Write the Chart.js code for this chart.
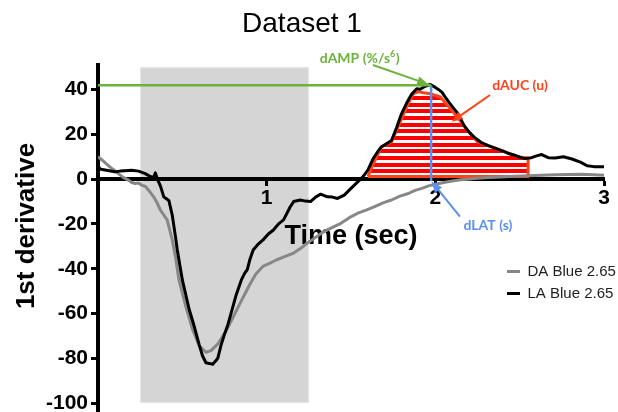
<!DOCTYPE html>
<html><head><meta charset="utf-8">
<script src="https://cdn.jsdelivr.net/npm/chart.js@4/dist/chart.umd.min.js"></script>
<style>html,body{margin:0;padding:0;background:#fff}#wrap{width:618px;height:412px}</style>
</head><body><div id="wrap"><canvas id="c" width="618" height="412"></canvas></div>
<script>
// ---- data ----
const daTime = [0.00,0.02,0.06,0.09,0.12,0.15,0.18,0.20,0.22,0.24,0.26,0.28,0.30,0.33,0.35,0.37,0.39,0.41,0.44,0.46,0.48,0.52,0.56,0.60,0.64,0.67,0.71,0.76,0.80,0.845,0.895,0.935,0.98,1.02,1.06,1.11,1.16,1.20,1.24,1.29,1.34,1.39,1.44,1.49,1.54,1.59,1.64,1.69,1.74,1.79,1.84,1.88,1.92,1.96,2.00,2.05,2.10,2.15,2.19,2.25,2.32,2.39,2.47,2.55,2.63,2.71,2.79,2.87,2.94,3.00];
const daValues = [10.0,8.8,6.2,4.3,2.5,0.8,-0.4,-1.5,-1.9,-1.7,-2.7,-3.2,-4.9,-7.9,-10.5,-13.8,-16,-18.2,-27,-35,-45,-56.7,-67,-74.4,-77.3,-76.6,-73.6,-67.7,-61.8,-55,-47.7,-42.5,-38.8,-37.5,-36,-34.5,-33,-31,-28.6,-26,-23.4,-21.5,-19.7,-17.2,-15.2,-13.8,-12.3,-10.6,-9.3,-7.6,-6.4,-5.0,-4.1,-3.0,-2.3,-1.5,-0.8,-0.3,0.0,0.4,0.8,1.0,1.3,1.5,1.8,2.0,2.1,2.2,2.0,1.8];

const laTime = [0.00,0.01,0.05,0.10,0.13,0.16,0.20,0.24,0.28,0.31,0.33,0.34,0.355,0.37,0.39,0.41,0.42,0.44,0.46,0.47,0.50,0.54,0.57,0.60,0.62,0.64,0.66,0.68,0.70,0.71,0.73,0.75,0.77,0.79,0.82,0.85,0.87,0.885,0.90,0.92,0.95,0.98,1.01,1.04,1.07,1.10,1.14,1.16,1.20,1.23,1.26,1.29,1.32,1.36,1.39,1.42,1.46,1.50,1.54,1.57,1.60,1.63,1.66,1.68,1.71,1.74,1.77,1.80,1.83,1.86,1.89,1.91,1.94,1.97,2.00,2.02,2.04,2.06,2.08,2.11,2.135,2.17,2.20,2.23,2.27,2.31,2.35,2.39,2.43,2.47,2.50,2.53,2.57,2.60,2.63,2.67,2.71,2.76,2.81,2.86,2.90,2.94,3.00];
const laValues = [6.5,4.5,4.0,3.3,3.6,3.8,4.0,3.6,2.5,1.2,0.8,2.8,-0.5,-3.0,-7.9,-9.0,-9.5,-16,-26,-31.5,-45,-58,-65.6,-74,-79,-82,-82.3,-82.7,-81,-80,-74,-69.3,-65,-59.6,-51.5,-45,-42,-40.4,-36,-31.6,-29,-27,-24.5,-22.7,-20,-18.2,-12.3,-10,-9.3,-9.8,-10,-8,-6.7,-7.9,-8.0,-8.6,-7.1,-4.1,-1.2,1.0,4.0,9.0,12.5,14.4,15.8,17.3,23,29.3,34,38,40.4,40.2,41.5,42.3,41,40,38.8,36.5,34.4,31.5,29.2,24,21,18.8,16.5,15.1,14.0,12.9,11.6,10.7,9.8,9.2,9.6,10.4,11.0,9.6,9.5,10.0,9.0,7.6,6.0,5.6,5.5];

const aucTime = [1.60,1.64,1.68,1.74,1.80,1.84,1.87,1.90,1.93,1.97,2.03,2.08,2.13,2.18,2.25,2.33,2.41,2.49,2.55];
const aucValues = [1.2,8,14.5,16.7,27,34,38.2,39,38.6,38.2,36.7,32.3,27.8,22.7,16.7,14.5,12.3,10,9.3];
const aucBase = 1.2;

const xTicks = [1, 2, 3];
const yTicks = [-100, -80, -60, -40, -20, 0, 20, 40];

const peakTime = 1.975, peakValue = 42, latencyEnd = -0.8;
const stimStart = 0.25, stimEnd = 1.25, stimLow = -100, stimHigh = 50;
const yTitleText = '1st derivative';

// ---- helpers ----
const pts = (t, v) => t.map((x, i) => ({x, y: v[i]}));
function stripePattern() {
  const c = document.createElement('canvas'); c.width = 4; c.height = 20;
  const g = c.getContext('2d');
  g.fillStyle = '#ff0000'; g.fillRect(0, 0, 4, 20);
  g.fillStyle = '#ffffff';
  [[0, 3], [7, 2], [13, 3]].forEach(([y, h]) => g.fillRect(0, y, 4, h));
  return g.createPattern(c, 'repeat');
}
function arrow(ctx, x1, y1, x2, y2, color) {
  const a = Math.atan2(y2 - y1, x2 - x1), L = 11, W = 4.5;
  const ca = Math.cos(a), sa = Math.sin(a);
  ctx.strokeStyle = color; ctx.fillStyle = color; ctx.lineWidth = 2;
  ctx.beginPath(); ctx.moveTo(x1, y1); ctx.lineTo(x2 - L * 0.8 * ca, y2 - L * 0.8 * sa); ctx.stroke();
  ctx.beginPath(); ctx.moveTo(x2, y2);
  ctx.lineTo(x2 - L * ca + W * sa, y2 - L * sa - W * ca);
  ctx.lineTo(x2 - L * ca - W * sa, y2 - L * sa + W * ca);
  ctx.closePath(); ctx.fill();
}

const GREEN = '#6cb33c', BLUE = '#5b8ff0', RED = '#ff4219';
const annotations = [
  {text: 'dAMP (%/s', sup: '6', tail: ')', color: GREEN, at: [1.55, 53.8], from: [1.63, 51.0], to: [1.958, 42.4]},
  {text: 'dAUC (u)', color: RED, at: [2.502, 41.7], from: [2.324, 37.6], to: [2.097, 25.7]},
  {text: 'dLAT (s)', color: BLUE, at: [2.312, -20.5], from: [2.146, -16.7], to: [1.978, -1.1]}
];

const annotPlugin = {
  id: 'annot',
  beforeDraw(chart) {
    const {ctx, scales: {x, y}} = chart;
    ctx.save();
    ctx.fillStyle = '#fff'; ctx.fillRect(0, 0, chart.width, chart.height);
    const l = x.getPixelForValue(stimStart), r = x.getPixelForValue(stimEnd);
    const t = y.getPixelForValue(stimHigh), b = y.getPixelForValue(stimLow);
    ctx.fillStyle = '#d5d5d5'; ctx.fillRect(l, t, r - l, b - t);
    ctx.strokeStyle = '#e6e6e6'; ctx.lineWidth = 1; ctx.strokeRect(l + 0.5, t + 0.5, r - l - 1, b - t - 1);
    ctx.restore();
  },
  afterLayout(chart) {
    const lg = chart.legend;
    if (!lg) return;
    lg.left = 500; lg.top = 257; lg.right = 500 + lg.width; lg.bottom = 257 + 200;
  },
  afterDatasetsDraw(chart) {
    const {ctx, scales: {x, y}} = chart;
    ctx.save();
    annotations.forEach(a => {
      arrow(ctx, x.getPixelForValue(a.from[0]), y.getPixelForValue(a.from[1]),
                 x.getPixelForValue(a.to[0]), y.getPixelForValue(a.to[1]), a.color);
      const cx = x.getPixelForValue(a.at[0]), cy = y.getPixelForValue(a.at[1]);
      ctx.fillStyle = a.color; ctx.textBaseline = 'middle';
      const main = 'bold 14px Lato, "Open Sans", sans-serif', small = 'bold 9px Lato, "Open Sans", sans-serif';
      ctx.font = main;
      const w1 = ctx.measureText(a.text).width;
      let w2 = 0, w3 = 0;
      if (a.sup) { ctx.font = small; w2 = ctx.measureText(a.sup).width; ctx.font = main; w3 = ctx.measureText(a.tail).width; }
      let sx = cx - (w1 + w2 + w3) / 2;
      ctx.textAlign = 'left';
      ctx.font = main; ctx.fillText(a.text, sx, cy);
      if (a.sup) {
        ctx.font = small; ctx.fillText(a.sup, sx + w1, cy - 5);
        ctx.font = main; ctx.fillText(a.tail, sx + w1 + w2 + 0.5, cy);
      }
    });
    ctx.restore();
  },
  afterDraw(chart) {
    // y axis title, placed where it sits in the reference (slightly above the axis centre)
    const {ctx} = chart;
    ctx.save();
    ctx.translate(27, 226);
    ctx.rotate(-Math.PI / 2);
    ctx.fillStyle = '#000';
    ctx.font = "bold 26px 'Liberation Sans', Arial, sans-serif";
    ctx.textAlign = 'center'; ctx.textBaseline = 'middle';
    ctx.fillText(yTitleText, 0, 0);
    ctx.restore();
  }
};

Chart.defaults.font.family = "'Liberation Sans', Arial, sans-serif";
Chart.defaults.color = '#000';

const closedAuc = pts(aucTime, aucValues)
  .concat([{x: aucTime[aucTime.length - 1], y: aucBase}, {x: aucTime[0], y: aucBase}]);

new Chart(document.getElementById('c'), {
  type: 'line',
  data: {
    datasets: [
      {label: 'DA Blue 2.65', data: pts(daTime, daValues), borderColor: '#878787', backgroundColor: '#878787',
       borderWidth: 3, pointRadius: 0, fill: false, order: 2, borderJoinStyle: 'round'},
      {label: 'LA Blue 2.65', data: pts(laTime, laValues), borderColor: '#000000', backgroundColor: '#000000',
       borderWidth: 3, pointRadius: 0, fill: false, order: 1, borderJoinStyle: 'round'},
      {label: 'dAUC', data: pts(aucTime, aucValues), borderColor: 'rgba(0,0,0,0)', borderWidth: 0,
       backgroundColor: stripePattern(), fill: {value: aucBase}, pointRadius: 0, order: 4},
      {label: 'dAUC outline', data: closedAuc, borderColor: RED, borderWidth: 3, fill: false,
       pointRadius: 0, order: 3, borderJoinStyle: 'round'},
      {label: 'dAMP', data: [{x: 0, y: peakValue}, {x: peakTime, y: peakValue}], borderColor: GREEN,
       borderWidth: 2.5, pointRadius: 0, fill: false, order: 0},
      {label: 'dLAT', data: [{x: peakTime, y: peakValue}, {x: peakTime, y: latencyEnd}], borderColor: BLUE,
       borderWidth: 2.5, pointRadius: 0, fill: false, order: 0}
    ]
  },
  options: {
    responsive: false, animation: false, devicePixelRatio: 1,
    layout: {padding: {top: 0, right: 14, bottom: 0, left: 0}},
    plugins: {
      title: {display: true, text: 'Dataset 1', color: '#000', font: {size: 28, weight: 'normal'},
              padding: {top: 7, bottom: 24.4}},
      legend: {
        position: 'chartArea', align: 'start',
        labels: {
          boxWidth: 13, boxHeight: 3, padding: 7, color: '#222', font: {size: 15},
          generateLabels(chart) {
            return Chart.defaults.plugins.legend.labels.generateLabels(chart)
              .filter(l => l.datasetIndex < 2)
              .sort((a, b) => a.datasetIndex - b.datasetIndex)
              .map(l => Object.assign(l, {lineWidth: 0, strokeStyle: 'rgba(0,0,0,0)',
                     fillStyle: chart.data.datasets[l.datasetIndex].borderColor}));
          }
        }
      },
      tooltip: {enabled: false}
    },
    scales: {
      x: {
        type: 'linear', min: 0, max: 3, position: {y: 0},
        afterBuildTicks(s) { s.ticks = xTicks.map(v => ({value: v})); },
        grid: {drawOnChartArea: false, tickLength: 5, tickWidth: 3, tickColor: '#000'},
        border: {color: '#000', width: 4},
        ticks: {padding: 1, color: '#000', font: {size: 21, weight: 'bold'}},
        title: {display: true, text: 'Time (sec)', color: '#000', font: {size: 27, weight: 'bold'},
                padding: {top: 9, bottom: 0}}
      },
      y: {
        type: 'linear', min: -104, max: 51,
        afterBuildTicks(s) { s.ticks = yTicks.map(v => ({value: v})); },
        afterFit(s) { s.width = 98; s.paddingTop = 0; s.paddingBottom = 0; },
        grid: {drawOnChartArea: false, tickLength: 7, tickWidth: 3, tickColor: '#000'},
        border: {color: '#000', width: 4},
        ticks: {padding: 3, color: '#000', font: {size: 21, weight: 'bold'}},
        title: {display: false, text: yTitleText}
      }
    }
  },
  plugins: [annotPlugin]
});
</script></body></html>
